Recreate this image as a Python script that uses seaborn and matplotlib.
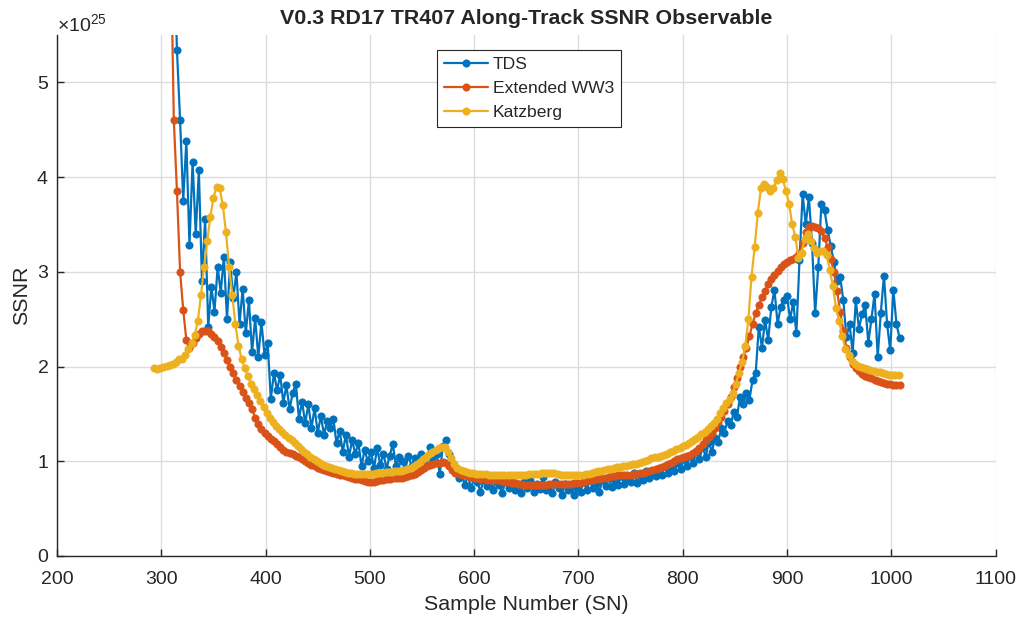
import numpy as np
import pandas as pd
import matplotlib
matplotlib.use("Agg")
import matplotlib.pyplot as plt
import matplotlib.ticker as mticker
import seaborn as sns

# SSNR values, in units of 1e25
# sample numbers go in steps of 3 starting at the first SN below
SCALE = 1e25
STEP = 3

katz_start = 293
katz_ssnr = [
    1.98, 1.97, 1.98, 2.00, 2.01, 2.02, 2.03, 2.05, 2.08, 2.08,
    2.12, 2.19, 2.25, 2.33, 2.48, 2.75, 3.05, 3.32, 3.58, 3.78,
    3.90, 3.88, 3.70, 3.42, 3.05, 2.76, 2.45, 2.22, 2.08, 1.98,
    1.90, 1.82, 1.76, 1.70, 1.64, 1.57, 1.51, 1.46, 1.41, 1.37,
    1.34, 1.31, 1.28, 1.25, 1.22, 1.19, 1.16, 1.13, 1.10, 1.08,
    1.05, 1.02, 1.00, 0.98, 0.96, 0.95, 0.94, 0.93, 0.92, 0.91,
    0.90, 0.89, 0.88, 0.88, 0.87, 0.87, 0.87, 0.87, 0.87, 0.87,
    0.87, 0.88, 0.88, 0.88, 0.89, 0.89, 0.89, 0.90, 0.90, 0.90,
    0.91, 0.92, 0.93, 0.95, 0.97, 0.99, 1.02, 1.05, 1.08, 1.10,
    1.12, 1.14, 1.15, 1.15, 1.10, 1.03, 0.97, 0.93, 0.91, 0.90,
    0.89, 0.88, 0.88, 0.87, 0.87, 0.87, 0.87, 0.86, 0.86, 0.86,
    0.86, 0.86, 0.86, 0.86, 0.86, 0.86, 0.86, 0.86, 0.86, 0.86,
    0.87, 0.87, 0.87, 0.87, 0.88, 0.88, 0.88, 0.88, 0.88, 0.87,
    0.86, 0.85, 0.85, 0.85, 0.85, 0.85, 0.85, 0.86, 0.87, 0.87,
    0.88, 0.89, 0.90, 0.90, 0.91, 0.92, 0.92, 0.93, 0.94, 0.94,
    0.95, 0.95, 0.96, 0.97, 0.97, 0.98, 0.99, 1.00, 1.01, 1.03,
    1.04, 1.05, 1.06, 1.07, 1.08, 1.10, 1.11, 1.13, 1.14, 1.16,
    1.17, 1.19, 1.21, 1.23, 1.26, 1.29, 1.31, 1.34, 1.37, 1.40,
    1.45, 1.51, 1.56, 1.61, 1.66, 1.72, 1.82, 1.93, 2.05, 2.22,
    2.50, 2.95, 3.26, 3.62, 3.88, 3.93, 3.90, 3.85, 3.88, 3.97,
    4.04, 3.98, 3.85, 3.72, 3.50, 3.37, 3.15, 3.20, 3.35, 3.40,
    3.33, 3.25, 3.20, 3.22, 3.22, 3.18, 3.02, 2.85, 2.62, 2.48,
    2.32, 2.19, 2.12, 2.06, 2.03, 2.01, 2.00, 1.98, 1.97, 1.96,
    1.95, 1.94, 1.94, 1.93, 1.92, 1.91, 1.91, 1.91, 1.91,
]

ww3_start = 309
ww3_ssnr = [
    6.50, 4.60, 3.85, 3.00, 2.60, 2.28, 2.20, 2.25, 2.30, 2.34,
    2.37, 2.38, 2.37, 2.34, 2.31, 2.27, 2.21, 2.14, 2.07, 2.00,
    1.93, 1.86, 1.79, 1.73, 1.67, 1.61, 1.55, 1.46, 1.39, 1.34,
    1.30, 1.27, 1.24, 1.21, 1.18, 1.15, 1.12, 1.10, 1.09, 1.08,
    1.06, 1.04, 1.02, 1.00, 0.98, 0.96, 0.95, 0.93, 0.92, 0.91,
    0.90, 0.89, 0.88, 0.87, 0.86, 0.85, 0.84, 0.83, 0.82, 0.81,
    0.81, 0.80, 0.79, 0.78, 0.78, 0.78, 0.79, 0.80, 0.80, 0.81,
    0.81, 0.82, 0.82, 0.82, 0.82, 0.83, 0.84, 0.85, 0.87, 0.89,
    0.91, 0.93, 0.95, 0.96, 0.97, 0.98, 0.98, 0.99, 0.98, 0.95,
    0.91, 0.88, 0.87, 0.86, 0.85, 0.84, 0.83, 0.82, 0.82, 0.81,
    0.81, 0.80, 0.80, 0.80, 0.80, 0.80, 0.79, 0.78, 0.78, 0.77,
    0.77, 0.76, 0.76, 0.75, 0.75, 0.75, 0.75, 0.75, 0.75, 0.75,
    0.75, 0.76, 0.76, 0.76, 0.76, 0.76, 0.76, 0.76, 0.76, 0.77,
    0.77, 0.77, 0.78, 0.79, 0.80, 0.80, 0.81, 0.81, 0.82, 0.82,
    0.83, 0.84, 0.84, 0.85, 0.85, 0.86, 0.86, 0.86, 0.87, 0.87,
    0.88, 0.88, 0.89, 0.90, 0.91, 0.92, 0.93, 0.94, 0.95, 0.97,
    0.98, 1.00, 1.02, 1.03, 1.04, 1.06, 1.07, 1.09, 1.11, 1.14,
    1.18, 1.22, 1.26, 1.30, 1.35, 1.41, 1.47, 1.53, 1.60, 1.68,
    1.78, 1.88, 2.00, 2.10, 2.20, 2.32, 2.45, 2.56, 2.65, 2.73,
    2.80, 2.87, 2.92, 2.97, 3.01, 3.05, 3.08, 3.10, 3.12, 3.14,
    3.16, 3.20, 3.30, 3.42, 3.47, 3.48, 3.47, 3.46, 3.43, 3.36,
    3.26, 3.14, 3.00, 2.80, 2.58, 2.38, 2.20, 2.10, 2.03, 1.98,
    1.95, 1.92, 1.90, 1.89, 1.88, 1.86, 1.85, 1.84, 1.83, 1.82,
    1.82, 1.81, 1.81, 1.80,
]

tds_start = 312
tds_ssnr = [
    6.50, 5.34, 4.60, 3.75, 4.38, 3.28, 4.16, 3.40, 4.07, 2.90,
    3.56, 2.42, 2.84, 2.58, 3.05, 2.78, 3.16, 2.50, 3.10, 2.72,
    3.00, 2.45, 2.82, 2.35, 2.70, 2.15, 2.51, 2.10, 2.47, 2.12,
    2.25, 1.66, 1.93, 1.75, 1.91, 1.62, 1.80, 1.55, 1.72, 1.82,
    1.45, 1.63, 1.40, 1.60, 1.35, 1.56, 1.30, 1.48, 1.28, 1.42,
    1.35, 1.45, 1.19, 1.32, 1.10, 1.28, 1.05, 1.22, 1.08, 1.19,
    0.95, 1.12, 1.00, 1.10, 0.93, 1.14, 0.96, 1.08, 0.92, 1.06,
    1.18, 0.95, 1.05, 1.00, 0.92, 1.06, 0.95, 1.03, 0.97, 1.08,
    0.98, 1.05, 1.15, 1.00, 1.08, 0.87, 1.16, 1.22, 1.08, 0.98,
    0.90, 0.82, 0.88, 0.75, 0.85, 0.72, 0.82, 0.78, 0.68, 0.80,
    0.74, 0.84, 0.70, 0.79, 0.75, 0.66, 0.80, 0.72, 0.82, 0.70,
    0.76, 0.67, 0.78, 0.72, 0.80, 0.68, 0.76, 0.71, 0.83, 0.70,
    0.75, 0.66, 0.78, 0.72, 0.64, 0.76, 0.70, 0.74, 0.64, 0.72,
    0.68, 0.78, 0.70, 0.80, 0.72, 0.76, 0.68, 0.80, 0.74, 0.82,
    0.73, 0.79, 0.75, 0.84, 0.76, 0.82, 0.78, 0.88, 0.77, 0.85,
    0.80, 0.90, 0.82, 0.88, 0.84, 0.92, 0.86, 0.95, 0.88, 0.93,
    0.90, 0.98, 0.92, 1.02, 0.95, 1.06, 0.98, 1.10, 1.02, 1.15,
    1.05, 1.20, 1.10, 1.25, 1.20, 1.35, 1.30, 1.43, 1.38, 1.52,
    1.47, 1.68, 1.60, 1.72, 1.65, 1.86, 1.93, 2.42, 2.20, 2.49,
    2.28, 2.63, 2.81, 2.45, 2.63, 2.70, 2.74, 2.50, 2.68, 2.35,
    3.12, 3.82, 3.50, 3.79, 3.30, 2.56, 3.05, 3.72, 3.65, 3.44,
    3.27, 3.10, 2.90, 2.95, 2.70, 2.31, 2.45, 2.14, 2.70, 2.40,
    2.55, 2.65, 2.25, 2.50, 2.77, 2.10, 2.57, 2.96, 2.45, 2.17,
    2.81, 2.45, 2.30,
]

series_names = ["TDS", "Extended WW3", "Katzberg"]
series_colors = ["#0072BD", "#D95319", "#EDB120"]


def make_frame(start, vals, name):
    sn = np.arange(start, start + STEP * len(vals), STEP)
    return pd.DataFrame({"SN": sn, "SSNR": np.array(vals) * SCALE, "series": name})


df = pd.concat([
    make_frame(tds_start, tds_ssnr, "TDS"),
    make_frame(ww3_start, ww3_ssnr, "Extended WW3"),
    make_frame(katz_start, katz_ssnr, "Katzberg"),
], ignore_index=True)

sns.set_style("white")
plt.rcParams["font.family"] = ["Liberation Sans", "DejaVu Sans"]
plt.rcParams["mathtext.fontset"] = "custom"
plt.rcParams["mathtext.rm"] = "Liberation Sans"
plt.rcParams["mathtext.it"] = "Liberation Sans"

fig = plt.figure(figsize=(10.24, 6.24), dpi=100)
ax = fig.add_axes([0.0557, 0.109, 0.9165, 0.835])

for name, color in zip(series_names, series_colors):
    sns.lineplot(data=df[df["series"] == name], x="SN", y="SSNR", ax=ax,
                 color=color, marker="o", markersize=5.2, markeredgewidth=0.6,
                 markeredgecolor=color, linewidth=1.6, sort=False,
                 estimator=None, label=name)

ax.set_xlim(200, 1100)
ax.set_ylim(0, 5.5 * SCALE)
ax.set_xticks(np.arange(200, 1101, 100))
ax.set_yticks(np.arange(0, 6) * SCALE)

fmt = mticker.ScalarFormatter(useMathText=True)
fmt.set_powerlimits((0, 0))
ax.yaxis.set_major_formatter(fmt)
ax.yaxis.get_offset_text().set_fontsize(14)
ax.yaxis.get_offset_text().set_color("#262626")

ax.grid(True, color="#dcdcdc", linewidth=1.0)
ax.set_axisbelow(True)
for side in ["top", "right"]:
    ax.spines[side].set_visible(False)
for side in ["left", "bottom"]:
    ax.spines[side].set_color("#262626")
    ax.spines[side].set_linewidth(1.0)

ax.tick_params(axis="both", direction="in", length=5, width=1.0,
               labelsize=14, colors="#262626", left=True, bottom=True)
ax.tick_params(axis="x", pad=11)
ax.tick_params(axis="y", pad=6)
ax.set_xlabel("Sample Number (SN)", fontsize=15.4, color="#262626", labelpad=5)
ax.set_ylabel("SSNR", fontsize=15.4, color="#262626", labelpad=4)
ax.set_title("V0.3 RD17 TR407 Along-Track SSNR Observable",
             fontsize=15.4, fontweight="bold", pad=8)

leg = ax.legend(loc="upper center", bbox_to_anchor=(0.503, 0.972),
                fontsize=12.6, frameon=True, fancybox=False, framealpha=1,
                edgecolor="#262626", handlelength=2.5, borderpad=0.4,
                labelspacing=0.5, handletextpad=0.3, borderaxespad=0)
leg.get_frame().set_linewidth(0.8)

fig.savefig("out.png", dpi=100)
